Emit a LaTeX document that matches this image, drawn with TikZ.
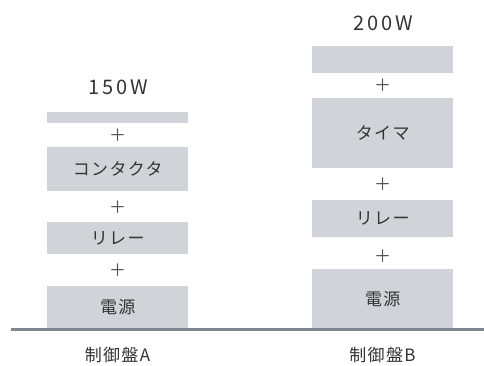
\documentclass[tikz,border=0pt]{standalone}
\usepackage{fontspec}
\newfontfamily\jpfont[LetterSpace=8]{Noto Sans CJK JP}
\newfontfamily\wattfont[LetterSpace=15]{Noto Sans CJK JP}
\definecolor{boxgray}{HTML}{D0D4D8}
\definecolor{inkgray}{HTML}{333333}
\definecolor{linegray}{HTML}{7F8890}
\tikzset{
    part/.style={fill=boxgray, text=inkgray, inner sep=0pt, minimum width=141pt,
        anchor=north west, font=\jpfont\fontsize{17}{20}\selectfont},
    plus/.style={text=inkgray!85, inner sep=0pt, font=\jpfont\fontsize{17}{20}\selectfont},
    watt/.style={text=inkgray, inner sep=0pt, font=\wattfont\fontsize{20}{24}\selectfont},
    panel/.style={text=inkgray, inner sep=0pt, font=\jpfont\fontsize{17}{20}\selectfont}
}
\begin{document}
\begin{tikzpicture}[x=1pt, y=-1pt]
        \useasboundingbox (0,0) rectangle (484,365);

        % panel A
        \node[part, minimum height=11pt] (topA) at (47,112) {};
        \node[plus] (plusA1) at (117.5,135) {＋};
        \node[part, minimum height=44pt] (contactorA) at (47,147) {コンタクタ};
        \node[plus] (plusA2) at (117.5,207) {＋};
        \node[part, minimum height=32pt] (relayA) at (47,222) {リレー};
        \node[plus] (plusA3) at (117.5,270) {＋};
        \node[part, minimum height=42pt] (powerA) at (47,286) {電源};
        \node[watt] (wattA) at (118.5,87) {150W};
        \node[panel] (nameA) at (117.5,355) {制御盤A};

        % panel B
        \node[part, minimum height=27pt] (topB) at (312,46) {};
        \node[plus] (plusB1) at (382.5,85) {＋};
        \node[part, minimum height=70pt] (timerB) at (312,98) {タイマ};
        \node[plus] (plusB2) at (382.5,184) {＋};
        \node[part, minimum height=37pt] (relayB) at (312,200) {リレー};
        \node[plus] (plusB3) at (382.5,256) {＋};
        \node[part, minimum height=59pt] (powerB) at (312,269) {電源};
        \node[watt] (wattB) at (383.5,23) {200W};
        \node[panel] (nameB) at (382.5,355) {制御盤B};

        % floor
        \draw[linegray, line width=2.5pt] (11,329.5) -- (484,329.5);
    \end{tikzpicture}
\end{document}
